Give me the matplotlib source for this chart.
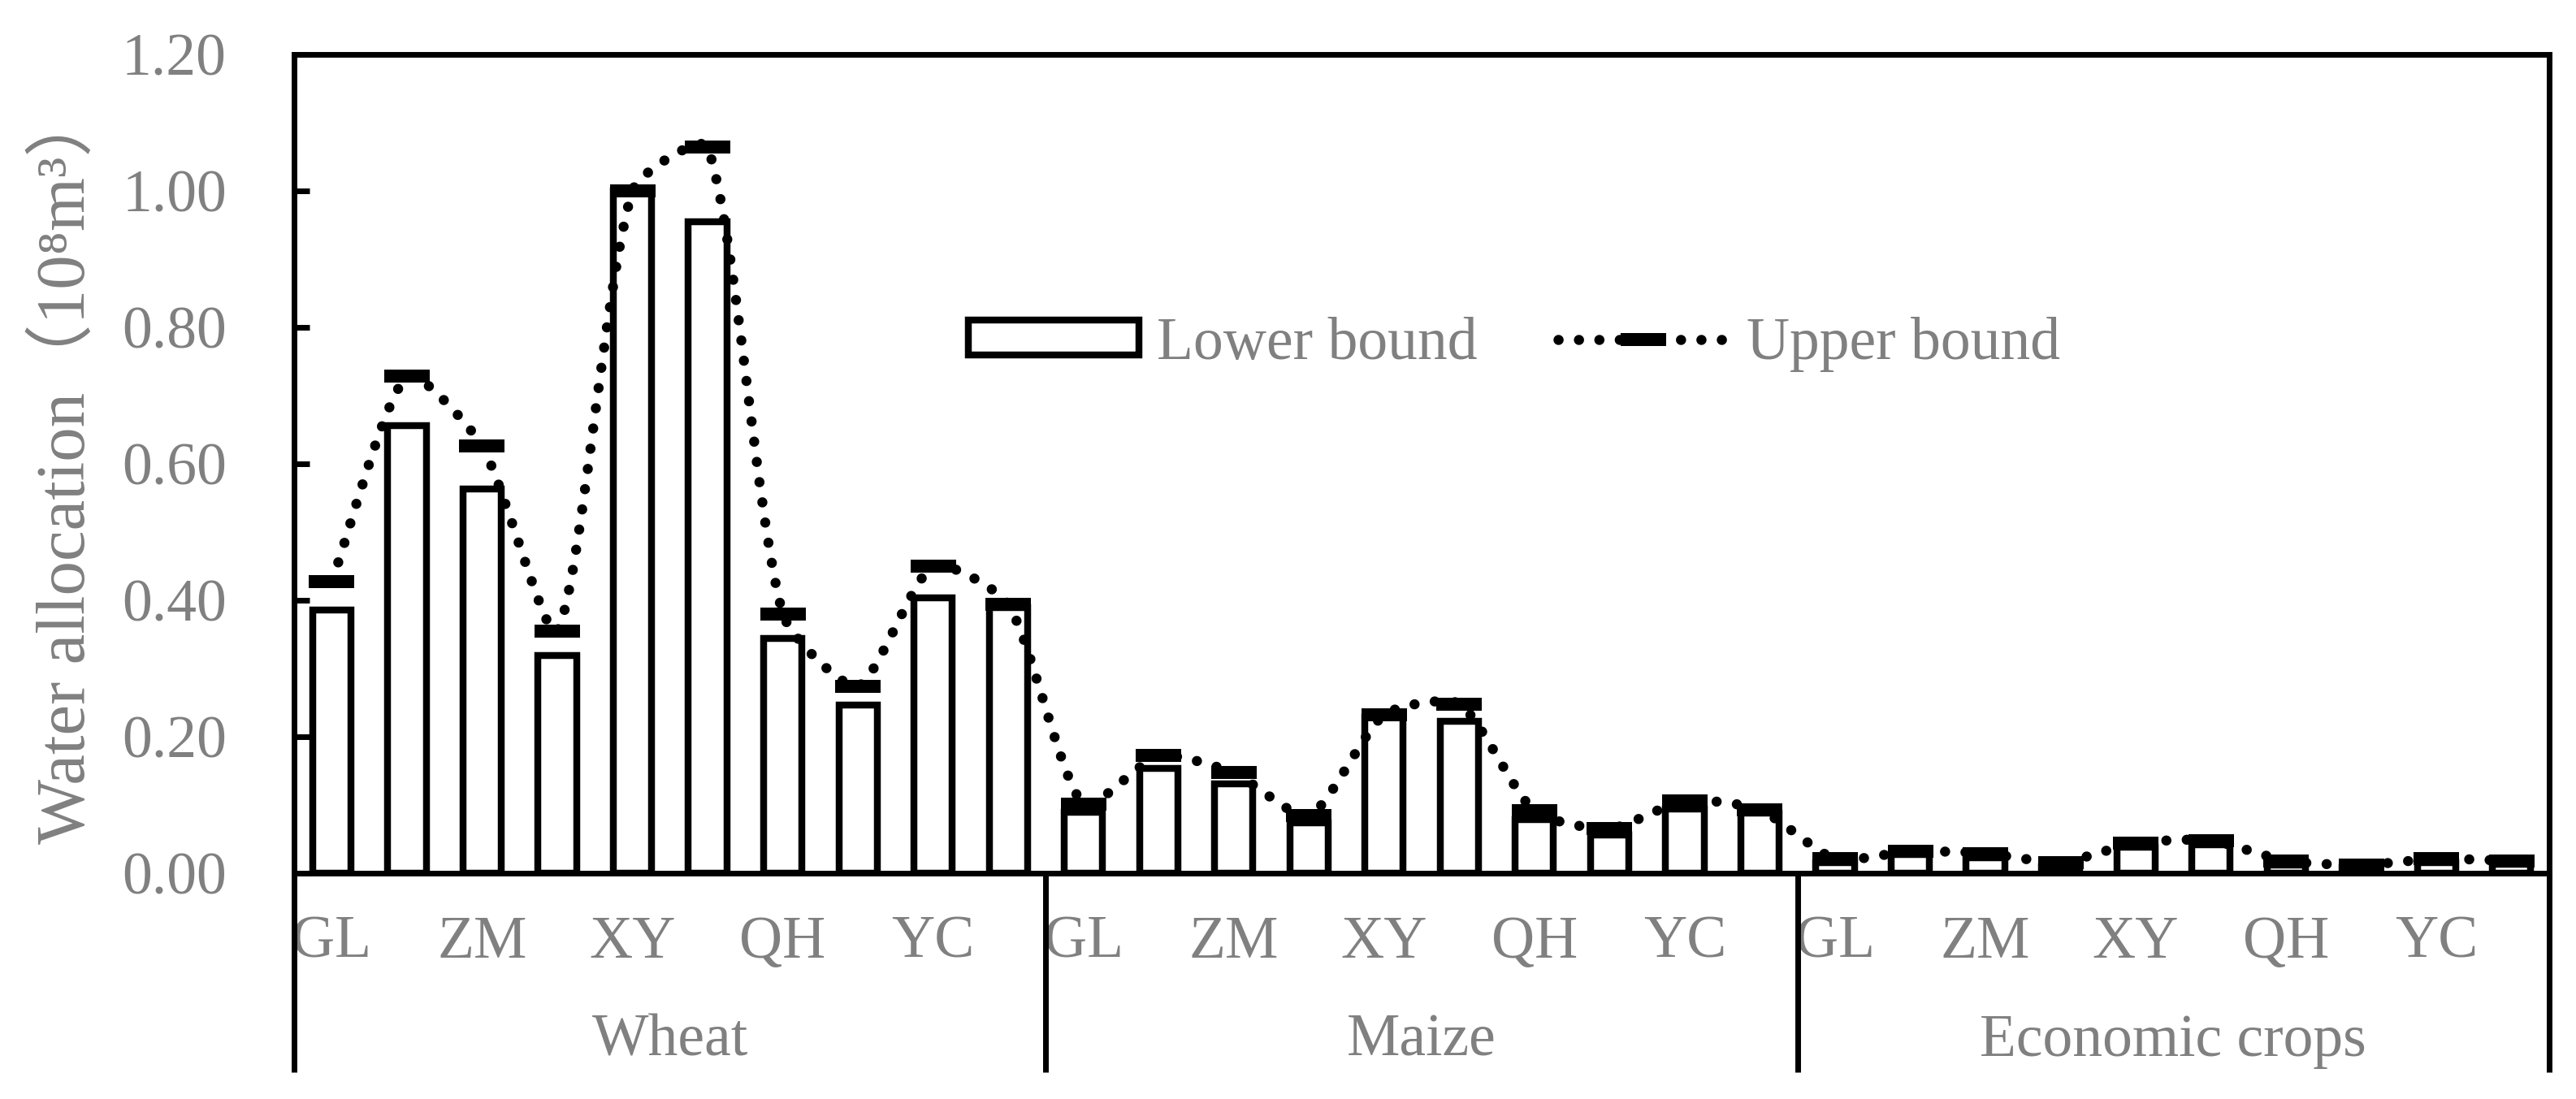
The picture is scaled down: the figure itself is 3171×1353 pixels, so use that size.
import matplotlib

matplotlib.use("Agg")

import matplotlib.pyplot as plt
import matplotlib.transforms as mtransforms
import numpy as np
from matplotlib.lines import Line2D
from matplotlib.patches import PathPatch
from matplotlib.path import Path
from matplotlib.ticker import FormatStrFormatter

# =====================
# DATA
# =====================

crops = ["Wheat", "Maize", "Economic crops"]
regions = ["GL", "ZM", "XY", "QH", "YC"]

# 10 bars per crop, region label on every other bar
wheat_lower = [0.385, 0.656, 0.563, 0.319, 1.000, 0.955, 0.344, 0.246, 0.404, 0.389]
wheat_upper = [0.427, 0.728, 0.626, 0.355, 1.000, 1.064, 0.380, 0.274, 0.450, 0.394]

maize_lower = [0.089, 0.153, 0.131, 0.074, 0.228, 0.222, 0.079, 0.056, 0.094, 0.088]
maize_upper = [0.101, 0.172, 0.147, 0.084, 0.232, 0.248, 0.091, 0.065, 0.106, 0.093]

econ_lower = [0.015, 0.027, 0.023, 0.010, 0.038, 0.042, 0.012, 0.008, 0.015, 0.013]
econ_upper = [0.021, 0.032, 0.029, 0.016, 0.044, 0.048, 0.018, 0.012, 0.021, 0.018]

y_ticks = [0.0, 0.2, 0.4, 0.6, 0.8, 1.0, 1.2]

lower = wheat_lower + maize_lower + econ_lower
upper = wheat_upper + maize_upper + econ_upper

GRAY = "#808080"
FS = 53

plt.rcParams["font.family"] = ["Liberation Serif", "DejaVu Serif", "Noto Sans CJK SC"]

fig = plt.figure(figsize=(31.71, 13.53), dpi=100)
ax = fig.add_axes([0.1142, 0.2055, 0.9896 - 0.1142, 0.9507 - 0.2055])

x = np.arange(len(lower))
per_crop = len(lower) // len(crops)

ax.set_xlim(-0.5, len(lower) - 0.5)
ax.set_ylim(y_ticks[0], y_ticks[-1])

# =====================
# BARS (lower bound)
# =====================

bars = ax.bar(
    x,
    lower,
    width=0.51,
    color="white",
    edgecolor="black",
    linewidth=6.1,
    zorder=2
)

# =====================
# SMOOTH DOTTED LINE (upper bound), Excel-like smoothing
# =====================

K = 0.22

pts = ax.transData.transform(np.column_stack([x, upper]))
n = len(pts)
verts = [pts[0]]
codes = [Path.MOVETO]
for i in range(n - 1):
    p0 = pts[max(i - 1, 0)]
    p1 = pts[i]
    p2 = pts[i + 1]
    p3 = pts[min(i + 2, n - 1)]
    d01 = np.hypot(*(p1 - p0))
    d12 = np.hypot(*(p2 - p1))
    d23 = np.hypot(*(p3 - p2))
    t1 = p2 - p0
    t2 = p3 - p1
    f1 = d12 / (d01 + d12) * K if d01 > 0 else K
    f2 = d12 / (d12 + d23) * K if d23 > 0 else K
    if d01 == 0:
        t1 = p2 - p1
    if d23 == 0:
        t2 = p2 - p1
    verts += [p1 + t1 * f1, p2 - t2 * f2, p2]
    codes += [Path.CURVE4] * 3

verts = ax.transData.inverted().transform(np.array(verts))

dots = (0, (0.01, 2.0))

curve = PathPatch(
    Path(verts, codes),
    fill=False,
    edgecolor="black",
    linewidth=9,
    linestyle=dots,
    capstyle="round",
    zorder=3
)
ax.add_patch(curve)

ax.plot(
    x,
    upper,
    ls="none",
    marker="_",
    ms=41,
    mew=11.5,
    color="black",
    zorder=4
)

# =====================
# AXES STYLE
# =====================

for s in ax.spines.values():
    s.set_linewidth(5)
    s.set_color("black")

ax.set_yticks(y_ticks)
ax.yaxis.set_major_formatter(FormatStrFormatter("%.2f"))
ax.tick_params(axis="y", direction="in", length=13.7, width=5,
               pad=60, labelsize=FS, labelcolor=GRAY)

tick_pos = []
tick_lab = []
for g in range(len(crops)):
    for j, r in enumerate(regions):
        tick_pos.append(g * per_crop + 2 * j)
        tick_lab.append(r)
ax.set_xticks(tick_pos)
ax.set_xticklabels(tick_lab)
ax.tick_params(axis="x", length=0, pad=37.5, labelsize=FS, labelcolor=GRAY)

trans = mtransforms.blended_transform_factory(ax.transData, ax.transAxes)

bounds = np.arange(len(crops) + 1) * per_crop - 0.5
for b in bounds:
    ax.plot([b, b], [0, -0.243], transform=trans, clip_on=False,
            color="black", lw=5, solid_capstyle="butt")

for g, crop in enumerate(crops):
    ax.text(g * per_crop + (per_crop - 1) / 2, -0.223, crop, transform=trans,
            ha="center", va="baseline", fontsize=FS, color=GRAY)

fig.text(82 / 3171, 1 - 573 / 1353, "Water allocation（10⁸m³）",
         rotation=90, ha="center", va="center", fontsize=61, color=GRAY)

# =====================
# LEGEND
# =====================

line_handle = Line2D([], [], color="black", lw=9, ls=dots,
                     dash_capstyle="round", marker="_", ms=41, mew=11.5)

leg = ax.legend(
    [bars, line_handle],
    ["Lower bound", "Upper bound"],
    ncol=2,
    frameon=False,
    loc="center left",
    bbox_to_anchor=(0.299, 0.646),
    borderpad=0,
    borderaxespad=0,
    handlelength=2.85,
    handleheight=0.53,
    handletextpad=0.3,
    columnspacing=1.35,
    fontsize=FS,
    numpoints=1
)
for t in leg.get_texts():
    t.set_color(GRAY)

fig.savefig("out.png", dpi=100)
plt.close()
